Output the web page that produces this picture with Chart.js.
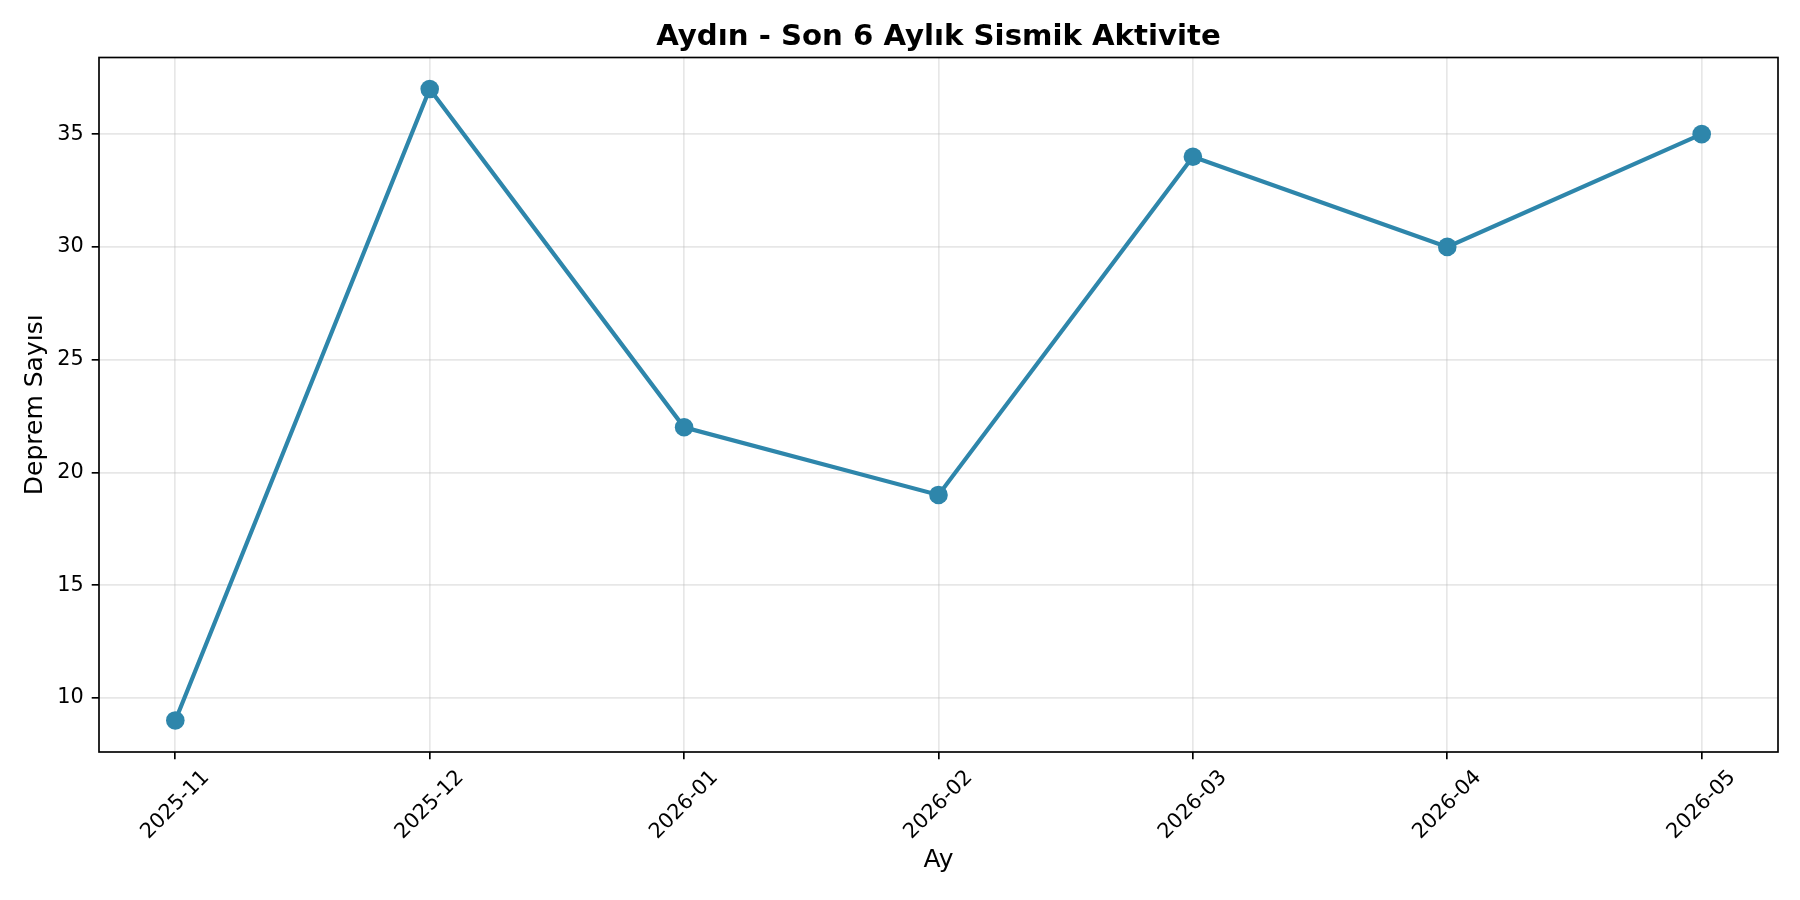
<!DOCTYPE html>
<html>
<head>
<meta charset="utf-8">
<script src="https://cdn.jsdelivr.net/npm/chart.js@4"></script>
<style>
    html, body { margin: 0; padding: 0; background: #fff; }
    #seismicChart { display: block; }
</style>
</head>
<body>
<canvas id="seismicChart" width="1800" height="900"></canvas>
<script>
// Data
const months = ['2025-11', '2025-12', '2026-01', '2026-02', '2026-03', '2026-04', '2026-05'];
const quakeCounts = [9, 37, 22, 19, 34, 30, 35];
const yTickValues = [10, 15, 20, 25, 30, 35];
const chartTitle = 'Aydın - Son 6 Aylık Sismik Aktivite';

const lineColor = '#2E86AB';
const gridColor = 'rgba(176, 176, 176, 0.3)';

Chart.defaults.font.family = "'DejaVu Sans', sans-serif";
Chart.defaults.color = '#000';

// matplotlib-like margins (5%)
const yMinData = Math.min(...quakeCounts), yMaxData = Math.max(...quakeCounts);
const yPad = (yMaxData - yMinData) * 0.05;
const xPad = (months.length - 1) * 0.05;

// frame around plot, title over the axes, centered rotated x labels
const framePlugin = {
    id: 'frame',
    afterDatasetsDraw(chart) {
        const { ctx, chartArea: a } = chart;
        ctx.save();
        ctx.strokeStyle = '#000';
        ctx.lineWidth = 1.67;
        ctx.strokeRect(a.left, a.top, a.right - a.left, a.bottom - a.top);
        ctx.restore();
    },
    afterDraw(chart) {
        const { ctx, chartArea: a } = chart;
        const xs = chart.scales.x;
        ctx.save();
        ctx.fillStyle = '#000';
        // title
        ctx.font = "bold 29.2px 'DejaVu Sans'";
        ctx.textAlign = 'center';
        ctx.textBaseline = 'alphabetic';
        ctx.fillText(chartTitle, (a.left + a.right) / 2, 45);
        // x tick labels
        ctx.font = "20.8px 'DejaVu Sans'";
        ctx.textBaseline = 'middle';
        months.forEach(function (m, i) {
            ctx.save();
            ctx.translate(xs.getPixelForValue(i), 805);
            ctx.rotate(-Math.PI / 4);
            ctx.fillText(m, 0, 0);
            ctx.restore();
        });
        ctx.restore();
    }
};

const ctx = document.getElementById('seismicChart');
const seismicChart = new Chart(ctx, {
    type: 'line',
    data: {
        datasets: [{
            label: 'Deprem Sayısı',
            data: quakeCounts.map((v, i) => ({ x: i, y: v })),
            borderColor: lineColor,
            backgroundColor: lineColor,
            borderWidth: 4.2,
            tension: 0,
            fill: false,
            pointRadius: 9.3,
            pointHoverRadius: 9.3,
            pointBackgroundColor: lineColor,
            pointBorderColor: lineColor,
            pointBorderWidth: 0,
            clip: false
        }]
    },
    options: {
        responsive: false,
        animation: false,
        devicePixelRatio: 1,
        layout: { padding: { left: 0, right: 22, top: 57.5, bottom: 0 } },
        plugins: {
            legend: { display: false },
            tooltip: { enabled: false },
            title: { display: false }
        },
        scales: {
            x: {
                type: 'linear',
                min: -xPad,
                max: months.length - 1 + xPad,
                afterBuildTicks: s => { s.ticks = months.map((m, i) => ({ value: i })); },
                afterFit: s => { s.height = 148; },
                ticks: { display: false },
                grid: {
                    color: gridColor,
                    lineWidth: 1.67,
                    drawTicks: true,
                    tickLength: 7.3,
                    tickColor: '#000',
                    tickWidth: 1.67
                },
                border: { display: false },
                title: {
                    display: true,
                    text: 'Ay',
                    font: { size: 25 },
                    padding: { top: 0, bottom: 24.5 }
                }
            },
            y: {
                min: yMinData - yPad,
                max: yMaxData + yPad,
                afterBuildTicks: s => { s.ticks = yTickValues.map(v => ({ value: v })); },
                afterFit: s => { s.width = 99; },
                ticks: {
                    font: { size: 20.8 },
                    color: '#000',
                    padding: 8
                },
                grid: {
                    color: gridColor,
                    lineWidth: 1.67,
                    drawTicks: true,
                    tickLength: 7.3,
                    tickColor: '#000',
                    tickWidth: 1.67
                },
                border: { display: false },
                title: {
                    display: true,
                    text: 'Deprem Sayısı',
                    font: { size: 25 },
                    padding: { top: 20, bottom: 0 }
                }
            }
        }
    },
    plugins: [framePlugin]
});
</script>
</body>
</html>
